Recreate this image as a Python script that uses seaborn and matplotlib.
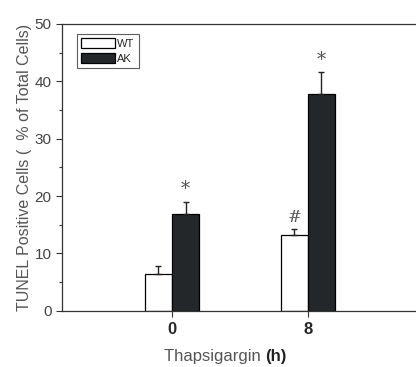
import numpy as np
import pandas as pd
import matplotlib
matplotlib.use("Agg")
import matplotlib.pyplot as plt
import seaborn as sns
from matplotlib.ticker import MultipleLocator

# 数据
times = ["0", "8"]
groups = ["WT", "AK"]
wt_mean = [6.4, 13.2]
ak_mean = [16.8, 37.7]
wt_err = [1.4, 1.0]
ak_err = [2.2, 3.9]
marks_wt = ["", "#"]
marks_ak = ["*", "*"]

df = pd.DataFrame({
    "time": times * 2,
    "group": ["WT"] * 2 + ["AK"] * 2,
    "value": wt_mean + ak_mean,
    "err": wt_err + ak_err,
    "mark": marks_wt + marks_ak,
})

sns.set_theme(style="white")
plt.rcParams['font.family'] = ['Liberation Sans', 'DejaVu Sans']

fig = plt.figure(figsize=(4.16, 3.67), dpi=100)
ax = fig.add_axes([0.149, 0.153, 0.849, 0.782])

sns.barplot(data=df, x="time", y="value", hue="group", hue_order=groups,
            order=times, palette={"WT": "white", "AK": "#22272b"},
            edgecolor="black", linewidth=0.9, width=0.4, errorbar=None,
            ax=ax, legend=True)

# 误差线与显著性标记
for patch_group, g in zip(ax.containers, groups):
    sub = df[df["group"] == g].set_index("time").loc[times]
    for bar, v, e, m in zip(patch_group, sub["value"], sub["err"], sub["mark"]):
        xc = bar.get_x() + bar.get_width() / 2
        ax.errorbar(xc, v, yerr=[[0], [e]], fmt="none", ecolor="#222222",
                    elinewidth=1.0, capsize=2.2, capthick=1.0)
        if m:
            ax.text(xc, v + e + 0.6, m, ha="center", va="bottom",
                    fontsize=13 if m == "*" else 12, color="#555555",
                    family="DejaVu Serif")

ax.set_ylim(0, 50)
ax.set_xlim(-0.81, 1.79)
ax.yaxis.set_major_locator(MultipleLocator(10))
ax.yaxis.set_minor_locator(MultipleLocator(5))
ax.tick_params(axis="y", which="major", direction="out", length=4, width=0.8,
               left=True, labelsize=11, labelcolor="#444444", color="#333333")
ax.tick_params(axis="y", which="minor", direction="out", length=2, width=0.8,
               left=True, color="#333333")
ax.tick_params(axis="x", direction="out", length=4, width=0.8, bottom=True,
               labelsize=12, color="#333333", pad=4)
for lab in ax.get_xticklabels():
    lab.set_fontweight("bold")

for s in ["left", "top", "bottom"]:
    ax.spines[s].set_color("#333333")
    ax.spines[s].set_linewidth(0.9)
ax.spines["right"].set_visible(False)

ax.set_ylabel("TUNEL Positive Cells (  % of Total Cells)", fontsize=11.5,
              color="#555555", labelpad=2)
ax.set_xlabel("")
fig.text(0.637, 0.016, "Thapsigargin ", ha="right", va="baseline",
         fontsize=12, color="#555555")
fig.text(0.637, 0.016, "(h)", ha="left", va="baseline", fontsize=12,
         fontweight="bold", color="#222222")

leg = ax.legend(loc="upper left", bbox_to_anchor=(0.042, 0.965), frameon=True,
                fancybox=False, edgecolor="#333333", fontsize=8,
                handlelength=3.1, handleheight=1.1, handletextpad=0.2,
                borderpad=0.35, labelspacing=0.35, borderaxespad=0)
leg.get_frame().set_linewidth(0.8)

fig.savefig("out.png", dpi=100)
